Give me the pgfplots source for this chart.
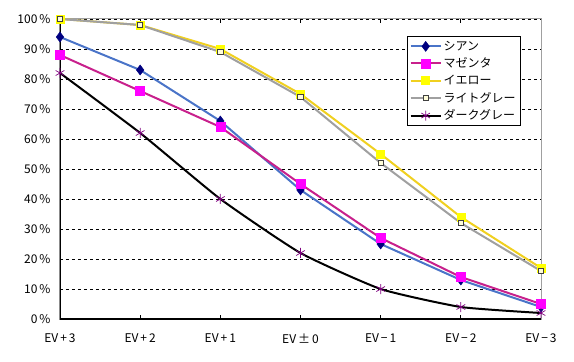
\documentclass[border=0pt]{standalone}
\usepackage{fontspec}
\setmainfont{Noto Sans CJK JP}
\usepackage{pgfplots}
\pgfplotsset{compat=1.18}
\definecolor{cyanline}{HTML}{4A74C8}
\definecolor{cyanmark}{HTML}{000080}
\definecolor{magline}{HTML}{C8208C}
\definecolor{magmark}{HTML}{FF00FF}
\definecolor{yelline}{HTML}{F0D020}
\definecolor{yelmark}{HTML}{FFFF00}
\definecolor{lgline}{HTML}{A0A0A0}
\definecolor{dgmark}{HTML}{800080}
\begin{document}
\begin{tikzpicture}
\begin{axis}[
  scale only axis,
  width=481pt, height=300pt,
  xmin=0, xmax=6, ymin=0, ymax=100,
  xtick={0,...,6},
  xticklabels={EV\,+\,3, EV\,+\,2, EV\,+\,1, EV\,±\,0, EV\,−\,1, EV\,−\,2, EV\,−\,3},
  ytick={0,10,...,100},
  yticklabel={\pgfmathprintnumber{\tick}\,\%},
  /pgf/number format/assume math mode=true,
  tick label style={font=\fontsize{12}{14}\selectfont},
  xticklabel style={yshift=-11pt},
  yticklabel style={xshift=-6pt},
  ytick style={draw=none},
  xtick style={black, line width=0.8pt},
  tick align=inside,
  major tick length=4pt,
  ymajorgrids,
  grid style={black, dashed, line width=0.8pt},
  axis line style={draw=lgline, line width=1pt},
  legend style={at={(rel axis cs:0.721,0.943)}, anchor=north west, draw=black, line width=0.8pt,
    font=\fontsize{12}{14}\selectfont, row sep=2pt, inner sep=2.5pt, cells={anchor=west}},
  legend cell align=left,
  legend image code/.code={\draw[mark repeat=2,mark phase=2] plot coordinates {(0pt,0pt) (15pt,0pt) (30pt,0pt)};},
]
\addplot[cyanline, line width=2pt, mark=diamond*, mark size=5pt, mark options={fill=cyanmark, draw=cyanmark, line width=0.5pt}]
  coordinates {(0,94) (1,83) (2,66) (3,43) (4,25) (5,13) (6,4)};
\addlegendentry{シアン}
\addplot[magline, line width=2pt, mark=square*, mark size=4.5pt, mark options={fill=magmark, draw=magmark, line width=0.5pt}]
  coordinates {(0,88) (1,76) (2,64) (3,45) (4,27) (5,14) (6,5)};
\addlegendentry{マゼンタ}
\addplot[yelline, line width=2pt, mark=square*, mark size=4pt, mark options={fill=yelmark, draw=yelmark, line width=0.5pt}]
  coordinates {(0,100) (1,98) (2,90) (3,75) (4,55) (5,34) (6,17)};
\addlegendentry{イエロー}
\addplot[lgline, line width=2pt, mark=square*, mark size=2.6pt, mark options={fill=white!85!yellow, draw=gray!50!black, line width=0.8pt}]
  coordinates {(0,100) (1,98) (2,89) (3,74) (4,52) (5,32) (6,16)};
\addlegendentry{ライトグレー}
\addplot[black, line width=2pt, smooth, tension=0.3, mark=asterisk, mark size=5pt, mark options={draw=dgmark, line width=0.7pt}]
  coordinates {(0,82) (1,62) (2,40) (3,22) (4,10) (5,4) (6,2)};
\addlegendentry{ダークグレー}
\draw[black, line width=1.2pt] (rel axis cs:0,1) -- (rel axis cs:0,0) -- (rel axis cs:1,0);
\end{axis}
\path[use as bounding box] (-60pt,-43pt) rectangle (514pt,319pt);
\end{tikzpicture}
\end{document}
